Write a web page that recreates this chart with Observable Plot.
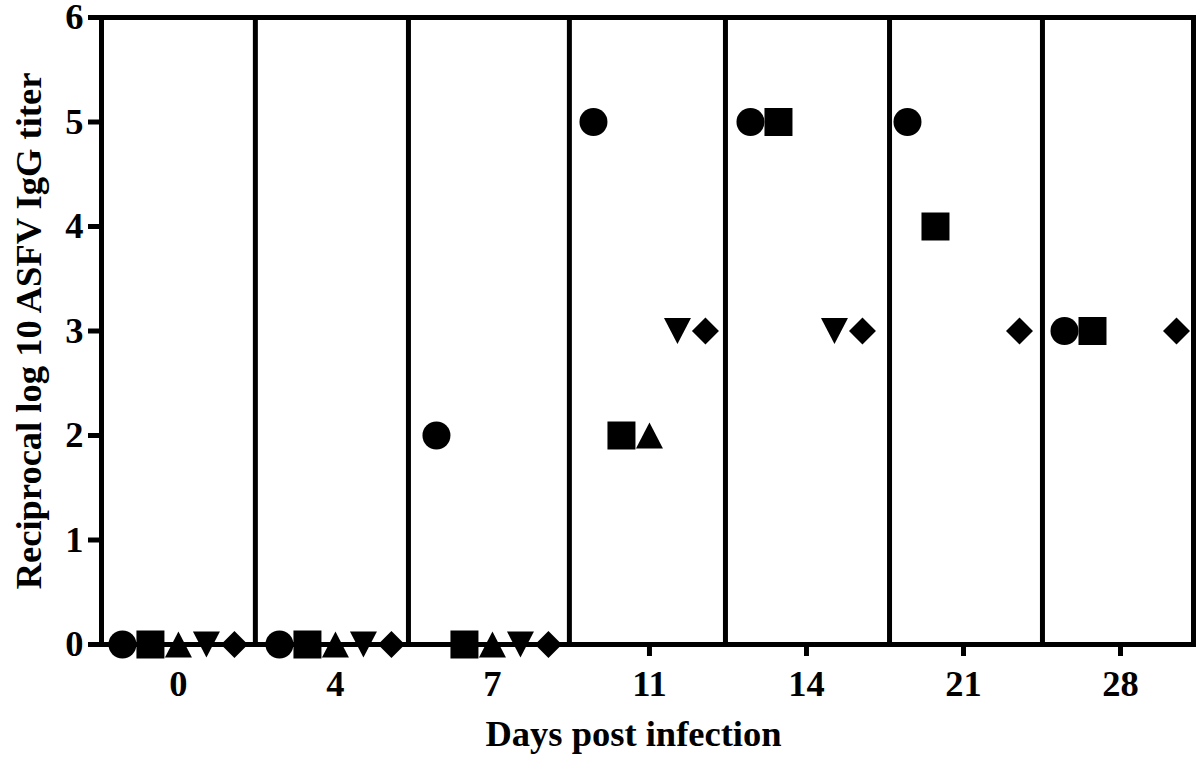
<!DOCTYPE html>
<html>
<head>
<meta charset="utf-8">
<script src="https://cdn.jsdelivr.net/npm/d3@7"></script>
<script src="https://cdn.jsdelivr.net/npm/@observablehq/plot@0.6"></script>
<style>
  html, body { margin: 0; padding: 0; background: #fff; }
</style>
</head>
<body>
<div id="chart"></div>
<script>
// ---- Data ----
const days = ["0", "4", "7", "11", "14", "21", "28"];
const yTicks = [0, 1, 2, 3, 4, 5, 6];
// one series per animal (marker shape); null = no value shown
const circleTiters       = [0, 0, 2, 5, 5, 5, 3];
const squareTiters       = [0, 0, 0, 2, 5, 4, 3];
const triangleTiters     = [0, 0, 0, 2, null, null, null];
const downTriangleTiters = [0, 0, 0, 3, 3, null, null];
const diamondTiters      = [0, 0, 0, 3, 3, 3, 3];
// group divider positions (in day-index units)
const dividers = [0.49, 1.465, 2.49, 3.484, 4.529, 5.503];

// ---- Custom symbols ----
const rad = (size) => Math.sqrt(size / Math.PI);
const symSquare = {draw(c, size) { const r = rad(size); c.rect(-r, -r, 2 * r, 2 * r); }};
const symTriangle = {draw(c, size) { const r = rad(size), w = 0.964 * r, h = 0.93 * r;
  c.moveTo(0, -h); c.lineTo(w, h); c.lineTo(-w, h); c.closePath(); }};
const symDown = {draw(c, size) { const r = rad(size), w = 0.964 * r, h = 0.93 * r;
  c.moveTo(0, h); c.lineTo(w, -h); c.lineTo(-w, -h); c.closePath(); }};
const symDiamond = {draw(c, size) { const r = rad(size) * 0.964;
  c.moveTo(0, -r); c.lineTo(r, 0); c.lineTo(0, r); c.lineTo(-r, 0); c.closePath(); }};

const series = [
  {values: circleTiters, symbol: "circle", dx: -56},
  {values: squareTiters, symbol: symSquare, dx: -28},
  {values: triangleTiters, symbol: symTriangle, dx: 0},
  {values: downTriangleTiters, symbol: symDown, dx: 28},
  {values: diamondTiters, symbol: symDiamond, dx: 56}
];

const dotMarks = series.map(s => {
  const rows = s.values.map((v, i) => ({day: i, titer: v})).filter(d => d.titer != null);
  return Plot.dot(rows, {x: "day", y: "titer", symbol: s.symbol, r: 14, fill: "black", stroke: "none", dx: s.dx});
});

const chart = Plot.plot({
  width: 1196,
  height: 761,
  marginLeft: 101,
  marginRight: 3,
  marginTop: 17,
  marginBottom: 117,
  x: {domain: [-0.49, 6.465]},
  y: {domain: [0, 6]},
  style: {fontFamily: "'Liberation Serif', 'Times New Roman', serif", fontSize: "36.5px", fontWeight: "bold", color: "black", background: "white", overflow: "visible"},
  marks: [
    Plot.ruleX(dividers, {strokeWidth: 5}),
    Plot.axisY(yTicks, {tickSize: 13, tickPadding: 5, strokeWidth: 5, tickFormat: d => String(d),
      label: "Reciprocal log 10 ASFV IgG titer", labelAnchor: "center", labelArrow: "none", labelOffset: 86}),
    Plot.axisX(d3.range(days.length), {tickSize: 12, tickPadding: 14, strokeWidth: 5,
      tickFormat: i => days[i], label: null}),
    Plot.frame({strokeWidth: 5}),
    ...dotMarks,
    Plot.text(["Days post infection"], {frameAnchor: "bottom", lineAnchor: "middle", dx: -14, dy: 90, fontSize: 36.5, fontWeight: "bold"})
  ]
});
document.getElementById("chart").appendChild(chart);
</script>
</body>
</html>
